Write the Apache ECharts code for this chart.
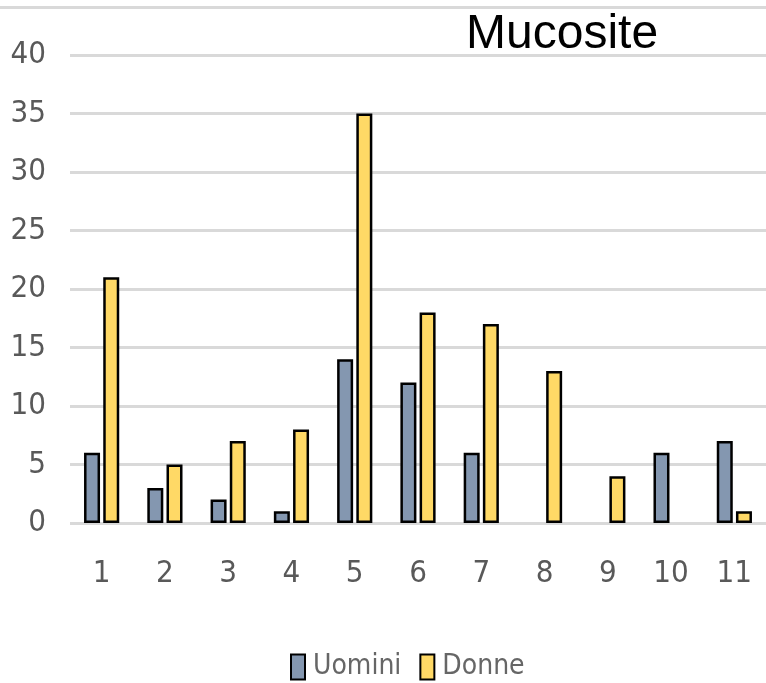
<!DOCTYPE html>
<html>
<head>
<meta charset="utf-8">
<script src="https://cdn.jsdelivr.net/npm/echarts@6/dist/echarts.min.js"></script>
<style>html,body{margin:0;padding:0;background:#fff;}#c{width:766px;height:683px;}</style>
</head>
<body>
<div id="c"></div>
<script>
const categories = ['1','2','3','4','5','6','7','8','9','10','11'];
const uomini = [6, 3, 2, 1, 14, 12, 6, 0, 0, 6, 7];
const donne = [21, 5, 7, 8, 35, 18, 17, 13, 4, 0, 1];
const yTicks = { min: 0, max: 40, interval: 5 };

const hideZero = arr => arr.map(v => (v === 0 ? null : v));
const narrow = "'Liberation Sans Narrow','DejaVu Sans Condensed','Liberation Sans',sans-serif";
const chart = echarts.init(document.getElementById('c'), null, { renderer: 'canvas' });
chart.setOption({
  animation: false,
  backgroundColor: '#ffffff',
  title: {
    text: 'Mucosite', left: 461, top: 6,
    textStyle: { fontFamily: "'Liberation Sans',Arial,sans-serif", fontSize: 48, fontWeight: 'normal', color: '#000' }
  },
  graphic: [{
    type: 'rect', shape: { x: 0, y: 6, width: 766, height: 3 }, style: { fill: '#d9d9d9' }, silent: true
  }],
  legend: {
    left: 290, top: 653, padding: 0, itemWidth: 14, itemHeight: 25, itemGap: 18,
    icon: 'rect',
    itemStyle: { borderColor: '#000', borderWidth: 2 },
    textStyle: { fontFamily: narrow, fontSize: 28, color: '#666666', padding: [0, 0, 0, 3] },
    data: ['Uomini', 'Donne']
  },
  grid: { left: 70, right: -4, top: 55, bottom: 160, containLabel: false },
  xAxis: {
    type: 'category', data: categories,
    axisLine: { show: false }, axisTick: { show: false },
    axisLabel: { margin: 35, fontFamily: narrow, fontSize: 31, color: '#595959' }
  },
  yAxis: {
    type: 'value', min: yTicks.min, max: yTicks.max, interval: yTicks.interval,
    axisLine: { show: false }, axisTick: { show: false },
    axisLabel: { margin: 24, fontFamily: narrow, fontSize: 31, color: '#595959' },
    splitLine: { lineStyle: { color: '#d9d9d9', width: 3 } }
  },
  series: [
    { name: 'Uomini', type: 'bar', data: hideZero(uomini), barWidth: 16, barGap: '20%',
      itemStyle: { color: '#8497b0', borderColor: '#000', borderWidth: 2.5 } },
    { name: 'Donne', type: 'bar', data: hideZero(donne), barWidth: 16,
      itemStyle: { color: '#ffd966', borderColor: '#000', borderWidth: 2.5 } }
  ]
});
</script>
</body>
</html>
